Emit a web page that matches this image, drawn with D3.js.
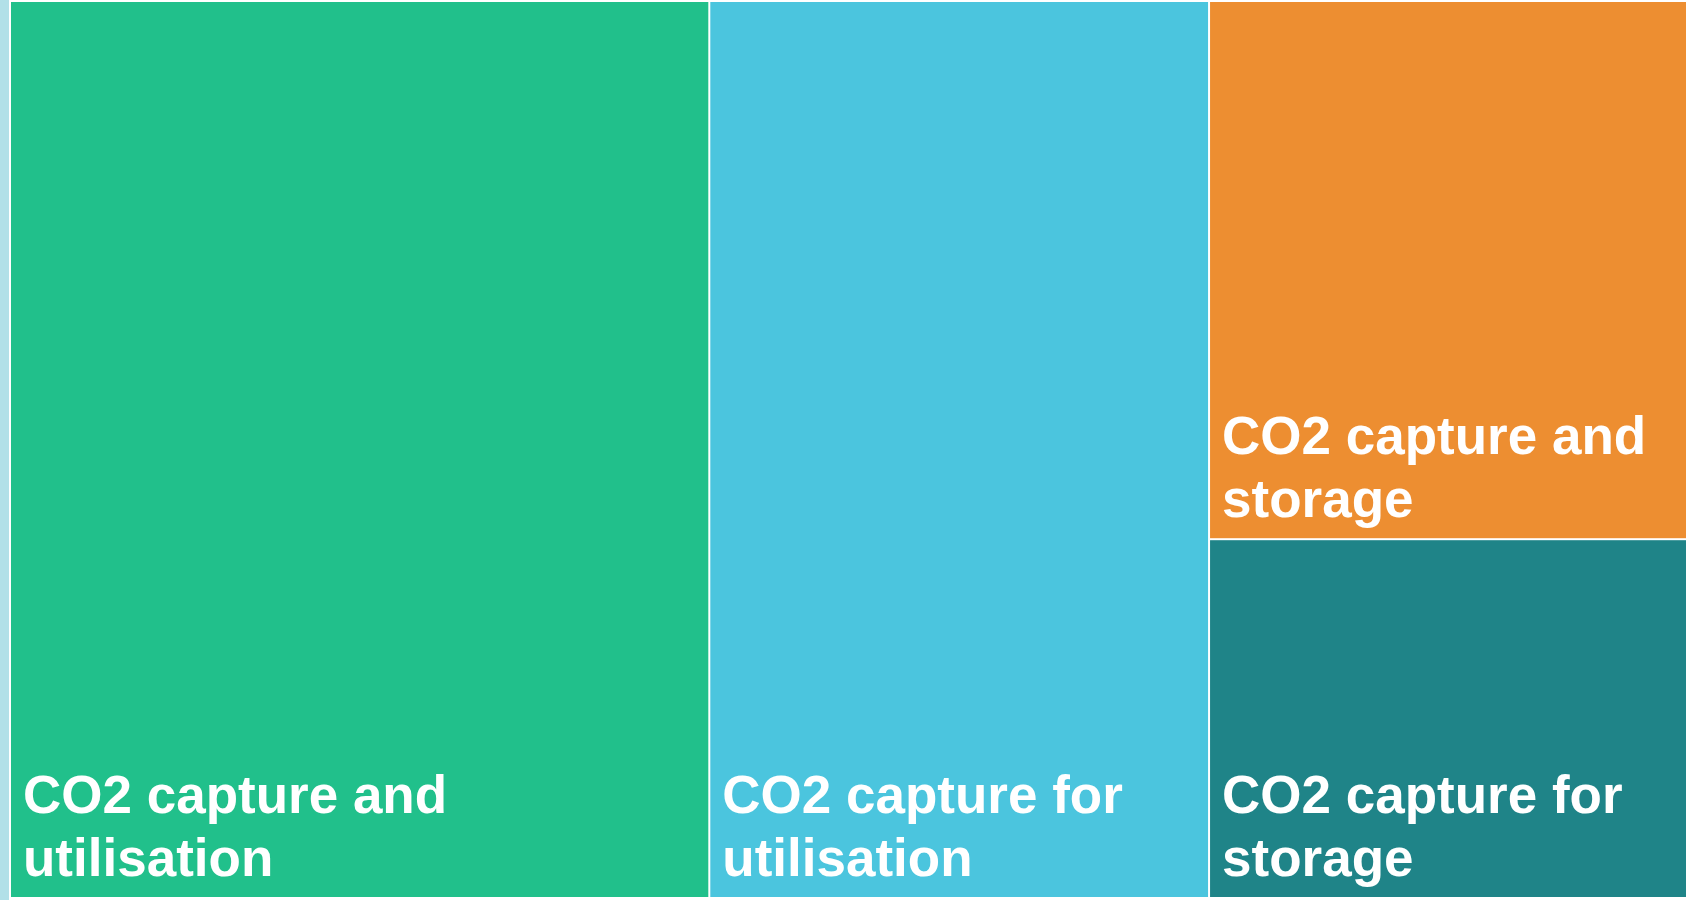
<!DOCTYPE html>
<html>
<head>
<meta charset="utf-8">
<script src="https://cdn.jsdelivr.net/npm/d3@7"></script>
<style>
  html, body { margin: 0; padding: 0; background: #fff; overflow: hidden; }
  svg { display: block; }
  .tile-label { font-family: "Liberation Sans", Arial, sans-serif; font-weight: bold; fill: #fff; }
</style>
</head>
<body>
<svg id="chart"></svg>
<script>
const categories = [
  "CO2 capture and utilisation",
  "CO2 capture for utilisation",
  "CO2 capture and storage",
  "CO2 capture for storage"
];
const shares = [41.7, 29.8, 17.1, 11.4];
const colours = ["#21c08b", "#4bc5de", "#ed8e31", "#1f8488"];
// label lines, as wrapped in the original
const labelLines = [
  ["CO2 capture and", "utilisation"],
  ["CO2 capture for", "utilisation"],
  ["CO2 capture and", "storage"],
  ["CO2 capture for", "storage"]
];

const W = 1686, H = 900;
const STRIP = 9;
const LINE_H = 63;

const svg = d3.select("#chart")
  .attr("width", W)
  .attr("height", H);

svg.append("rect")
  .attr("width", W).attr("height", H)
  .attr("fill", "#fff");

svg.append("rect")
  .attr("width", STRIP).attr("height", H)
  .attr("fill", "#b2e0e8");

const root = d3.hierarchy({
    children: categories.map((name, i) => ({ name, value: shares[i], idx: i }))
  })
  .sum(d => d.value || 0);

d3.treemap()
  .tile(d3.treemapSquarify.ratio(1))
  .size([W - STRIP, 899])
  .paddingInner(2)
  .paddingTop(2)
  .paddingLeft(2)
  .paddingBottom(2)
  .paddingRight(0)
  .round(false)(root);

const g = svg.append("g").attr("transform", `translate(${STRIP},0)`);

const cells = g.selectAll("g.cell")
  .data(root.leaves())
  .join("g")
  .attr("class", "cell");

cells.append("rect")
  .attr("x", d => d.x0)
  .attr("y", d => d.y0)
  .attr("width", d => d.x1 - d.x0)
  .attr("height", d => d.y1 - d.y0)
  .attr("fill", d => colours[d.data.idx]);

const label = cells.append("text")
  .attr("class", "tile-label")
  .attr("font-size", 53);

// labels sit at the bottom-left of each tile
label.selectAll("tspan")
  .data(d => {
    const lines = labelLines[d.data.idx];
    const n = lines.length;
    return lines.map((t, j) => ({
      t,
      x: d.x0 + 12,
      y: d.y1 - 21 - (n - 1 - j) * LINE_H
    }));
  })
  .join("tspan")
  .attr("x", l => l.x)
  .attr("y", l => l.y)
  .text(l => l.t);
</script>
</body>
</html>
